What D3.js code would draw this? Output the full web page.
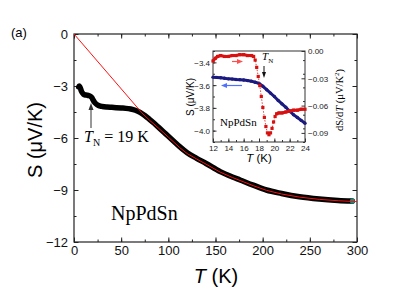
<!DOCTYPE html>
<meta charset="utf-8">
<script src="https://d3js.org/d3.v7.min.js"></script>
<style>
  body { margin: 0; background: #fff; }
  svg { display: block; }
  .sans { font-family: "Liberation Sans", Arial, sans-serif; }
  .serif { font-family: "Liberation Serif", "Times New Roman", serif; }
</style>
<div id="my_dataviz"></div>
<script>

// main panel: thermopower S(T)
var mainT = [5, 5.5, 6, 7, 8, 10, 12, 14, 16, 18, 19, 20, 21, 22, 24, 26, 28, 30, 35, 40, 45, 50, 55, 60, 65, 70, 75, 80, 85, 90, 95, 100, 106, 112, 120, 130, 140, 155, 168, 176, 190, 204, 220, 239, 260, 280, 295];
var mainS = [-3.05, -3.0, -3.04, -3.16, -3.32, -3.47, -3.52, -3.53, -3.56, -3.62, -3.68, -3.78, -3.88, -3.96, -4.06, -4.12, -4.16, -4.18, -4.21, -4.23, -4.25, -4.27, -4.29, -4.33, -4.4, -4.52, -4.7, -4.92, -5.15, -5.4, -5.65, -5.9, -6.2, -6.5, -6.85, -7.17, -7.47, -7.94, -8.25, -8.42, -8.72, -9.0, -9.2, -9.39, -9.52, -9.6, -9.64];

// red fit line
var fitT = [0, 72, 80, 90, 100, 112, 120, 130, 140, 155, 168, 176, 190, 204, 220, 239, 260, 280, 300];
var fitS = [0, -4.55, -4.97, -5.45, -5.95, -6.55, -6.9, -7.21, -7.51, -7.97, -8.28, -8.45, -8.75, -9.02, -9.23, -9.41, -9.54, -9.62, -9.67];

var xTicks = [0, 50, 100, 150, 200, 250, 300];
var yTicks = [0, -3, -6, -9, -12];

// inset: S (left axis) and dS/dT (right axis) near T_N
var insT = [12, 12.5, 13, 13.5, 14, 14.5, 15, 15.5, 16, 16.5, 17, 17.5, 18, 18.5, 19, 19.5, 20, 20.5, 21, 21.5, 22, 22.5, 23, 23.5, 24];
var insS = [-3.53, -3.532, -3.535, -3.54, -3.545, -3.547, -3.55, -3.552, -3.555, -3.56, -3.565, -3.575, -3.585, -3.61, -3.64, -3.67, -3.7, -3.735, -3.765, -3.795, -3.83, -3.86, -3.885, -3.91, -3.935];

var dT = [12, 12.3, 12.6, 13, 13.5, 14, 14.5, 15, 15.5, 16, 16.5, 17, 17.3, 17.5, 17.7, 17.9, 18.1, 18.3, 18.5, 18.7, 18.9, 19.1, 19.3, 19.5, 19.7, 19.9, 20.1, 20.3, 20.6, 21, 21.5, 22, 22.5, 23, 23.5, 24];
var dS = [-0.011, -0.008, -0.006, -0.005, -0.006, -0.006, -0.005, -0.005, -0.004, -0.004, -0.005, -0.005, -0.006, -0.01, -0.018, -0.028, -0.038, -0.05, -0.062, -0.073, -0.083, -0.09, -0.092, -0.09, -0.085, -0.078, -0.072, -0.069, -0.068, -0.068, -0.067, -0.066, -0.065, -0.065, -0.064, -0.064];

var insXTicks = [12, 14, 16, 18, 20, 22, 24];
var insYTicks = [-3.4, -3.6, -3.8, -4.0];
var insY2Ticks = [0, -0.03, -0.06, -0.09];

var W = 415, H = 291;

var svg = d3.select("#my_dataviz")
  .append("svg")
    .attr("width", W)
    .attr("height", H);

// ---- main panel ----
var x = d3.scaleLinear().domain([0, 300]).range([74, 357]);
var y = d3.scaleLinear().domain([-12, 0]).range([242, 34]);

function minor(lo, hi, step) {
  var out = [];
  for (var v = lo; v <= hi + 1e-9; v += step) out.push(+v.toFixed(4));
  return out;
}

// ticks point inward, domain line drawn by the frame rect
function addAxis(axis, tr, size) {
  var g = svg.append("g")
    .attr("transform", tr)
    .call(axis.tickSizeInner(size).tickSizeOuter(0));
  g.select(".domain").remove();
  g.selectAll("line").attr("stroke", "#222");
  return g;
}

addAxis(d3.axisBottom(x).tickValues(minor(0, 300, 25)).tickFormat(""), "translate(0,242)", -2.5);
addAxis(d3.axisTop(x).tickValues(minor(0, 300, 25)).tickFormat(""), "translate(0,34)", -2.5);
addAxis(d3.axisLeft(y).tickValues(minor(-12, 0, 1.5)).tickFormat(""), "translate(74,0)", -2.5);
addAxis(d3.axisRight(y).tickValues(minor(-12, 0, 1.5)).tickFormat(""), "translate(357,0)", -2.5);

var gx = addAxis(d3.axisBottom(x).tickValues(xTicks).tickPadding(4), "translate(0,242)", -4.5);
gx.selectAll("text").attr("class", "sans").style("font-size", "13px").attr("fill", "#111");
var gy = addAxis(d3.axisLeft(y).tickValues(yTicks).tickPadding(6), "translate(74,0)", -4.5);
gy.selectAll("text").attr("class", "sans").style("font-size", "13px").attr("fill", "#111")
  .attr("dy", "0.36em");
addAxis(d3.axisTop(x).tickValues(xTicks).tickFormat(""), "translate(0,34)", -4.5);
addAxis(d3.axisRight(y).tickValues(yTicks).tickFormat(""), "translate(357,0)", -4.5);

svg.append("rect")
  .attr("x", 74).attr("y", 34)
  .attr("width", 357 - 74).attr("height", 242 - 34)
  .attr("fill", "none").attr("stroke", "#222").attr("stroke-width", 1.2);

// data band
var mainPts = mainT.map(function(t, i) { return [t, mainS[i]]; });
var fitPts = fitT.map(function(t, i) { return [t, fitS[i]]; });

var line = d3.line()
  .x(function(d) { return x(d[0]); })
  .y(function(d) { return y(d[1]); })
  .curve(d3.curveMonotoneX);

svg.append("path")
  .datum(mainPts)
  .attr("d", line)
  .attr("fill", "none")
  .attr("stroke", "#000")
  .attr("stroke-width", 5.5)
  .attr("stroke-linecap", "round")
  .attr("stroke-linejoin", "round");

svg.append("circle")
  .attr("cx", x(mainT[mainT.length - 1]))
  .attr("cy", y(mainS[mainS.length - 1]))
  .attr("r", 2.5)
  .attr("fill", "#1a8a7a");

svg.append("path")
  .datum(fitPts)
  .attr("d", d3.line().x(function(d) { return x(d[0]); }).y(function(d) { return y(d[1]); }))
  .attr("fill", "none")
  .attr("stroke", "#ff1010")
  .attr("stroke-width", 1);

// labels
svg.append("text").attr("class", "sans")
  .attr("x", 11).attr("y", 37)
  .style("font-size", "13px").text("(a)");

svg.append("text").attr("class", "sans")
  .attr("transform", "translate(42,140) rotate(-90)")
  .attr("text-anchor", "middle")
  .style("font-size", "20px")
  .text("S (\u03bcV/K)");

var xl = svg.append("text").attr("class", "sans")
  .attr("x", 216).attr("y", 283)
  .attr("text-anchor", "middle")
  .style("font-size", "20px");
xl.append("tspan").style("font-style", "italic").text("T");
xl.append("tspan").text(" (K)");

svg.append("text").attr("class", "serif")
  .attr("x", 111).attr("y", 220)
  .style("font-size", "20px")
  .text("NpPdSn");

var tn = svg.append("text").attr("class", "serif")
  .attr("x", 84).attr("y", 142)
  .style("font-size", "16px");
tn.append("tspan").style("font-style", "italic").text("T");
tn.append("tspan").attr("dy", 4).style("font-size", "10px").text("N");
tn.append("tspan").attr("dy", -4).text(" = 19 K");

svg.append("line")
  .attr("x1", 91).attr("y1", 128).attr("x2", 91).attr("y2", 108)
  .attr("stroke", "#333").attr("stroke-width", 1);
svg.append("path")
  .attr("d", "M91,103 L88.5,110 L93.5,110 Z")
  .attr("fill", "#333");

// ---- inset ----
var ix = d3.scaleLinear().domain([12, 24]).range([213, 305]);
var iy = d3.scaleLinear().domain([-4.1, -3.3]).range([142, 51]);
var iy2 = d3.scaleLinear().domain([-0.1, 0]).range([142, 51]);

svg.append("rect")
  .attr("x", 213).attr("y", 51)
  .attr("width", 305 - 213).attr("height", 142 - 51)
  .attr("fill", "#fff").attr("stroke", "#333").attr("stroke-width", 1);

function insAxis(axis, tr, size) {
  var g = svg.append("g").attr("transform", tr)
    .call(axis.tickSizeInner(size).tickSizeOuter(0).tickPadding(3));
  g.select(".domain").remove();
  g.selectAll("line").attr("stroke", "#333");
  g.selectAll("text").attr("class", "sans").style("font-size", "8px").attr("fill", "#222");
  return g;
}

insAxis(d3.axisBottom(ix).tickValues(minor(12, 24, 1)).tickFormat(""), "translate(0,142)", -2);
insAxis(d3.axisBottom(ix).tickValues(insXTicks).tickFormat(d3.format("d")), "translate(0,142)", -3.5);
insAxis(d3.axisLeft(iy).tickValues(minor(-4.1, -3.3, 0.1)).tickFormat(""), "translate(213,0)", -2);
insAxis(d3.axisLeft(iy).tickValues(insYTicks).tickFormat(d3.format(".1f")), "translate(213,0)", -3.5)
  .selectAll("text").attr("dy", "0.36em");
insAxis(d3.axisRight(iy2).tickValues(minor(-0.1, 0, 0.015)).tickFormat(""), "translate(305,0)", -2);
insAxis(d3.axisRight(iy2).tickValues(insY2Ticks).tickFormat(d3.format(".2f")), "translate(305,0)", -3.5)
  .selectAll("text").attr("dy", "0.36em");

var sPts = insT.map(function(t, i) { return [t, insS[i]]; });
var dPts = dT.map(function(t, i) { return [t, dS[i]]; });

svg.append("path")
  .datum(sPts)
  .attr("d", d3.line().x(function(d) { return ix(d[0]); }).y(function(d) { return iy(d[1]); }))
  .attr("fill", "none").attr("stroke", "#1a1a80").attr("stroke-width", 3);
svg.selectAll(".sdot").data(sPts).enter().append("circle")
  .attr("cx", function(d) { return ix(d[0]); })
  .attr("cy", function(d) { return iy(d[1]); })
  .attr("r", 1.7).attr("fill", "#1a1a80");

var dLine = d3.line().x(function(d) { return ix(d[0]); }).y(function(d) { return iy2(d[1]); });

svg.append("path")
  .datum(dPts)
  .attr("d", dLine)
  .attr("fill", "none").attr("stroke", "#d81010").attr("stroke-width", 0.8)
  .attr("stroke-dasharray", "1.5,1.5");
svg.selectAll(".ddot").data(dPts).enter().append("rect")
  .attr("x", function(d) { return ix(d[0]) - 1.6; })
  .attr("y", function(d) { return iy2(d[1]) - 1.6; })
  .attr("width", 3.2).attr("height", 3.2)
  .attr("fill", "#d81010");
// dense segments of the red trace (outside the transition)
svg.append("path")
  .datum(dPts.filter(function(d) { return d[0] <= 17.3; }))
  .attr("d", dLine)
  .attr("fill", "none").attr("stroke", "#d81010").attr("stroke-width", 3);
svg.append("path")
  .datum(dPts.filter(function(d) { return d[0] >= 20.3; }))
  .attr("d", dLine)
  .attr("fill", "none").attr("stroke", "#d81010").attr("stroke-width", 3);

// inset arrows
svg.append("line").attr("x1", 232).attr("y1", 61.5).attr("x2", 238).attr("y2", 61.5)
  .attr("stroke", "#ff5050").attr("stroke-width", 1.2);
svg.append("path").attr("d", "M243,61.5 L237,59 L237,64 Z").attr("fill", "#ff5050");
svg.append("line").attr("x1", 242).attr("y1", 85.5).attr("x2", 226).attr("y2", 85.5)
  .attr("stroke", "#5070ff").attr("stroke-width", 1.2);
svg.append("path").attr("d", "M221,85.5 L227,83 L227,88 Z").attr("fill", "#5070ff");
svg.append("line").attr("x1", 264).attr("y1", 66).attr("x2", 264).attr("y2", 73)
  .attr("stroke", "#111").attr("stroke-width", 1);
svg.append("path").attr("d", "M264,78 L262,72 L266,72 Z").attr("fill", "#111");

var itn = svg.append("text").attr("class", "serif")
  .attr("x", 262).attr("y", 60).style("font-size", "11px");
itn.append("tspan").style("font-style", "italic").text("T");
itn.append("tspan").attr("dy", 3).style("font-size", "7px").text("N");

svg.append("text").attr("class", "serif")
  .attr("x", 220).attr("y", 126).style("font-size", "11px").text("NpPdSn");

svg.append("text").attr("class", "sans")
  .attr("transform", "translate(194,97) rotate(-90)")
  .attr("text-anchor", "middle").style("font-size", "10px")
  .text("S (\u03bcV/K)");

var ixl = svg.append("text").attr("class", "sans")
  .attr("x", 259).attr("y", 162).attr("text-anchor", "middle").style("font-size", "11.5px");
ixl.append("tspan").style("font-style", "italic").text("T");
ixl.append("tspan").text(" (K)");

var iyl = svg.append("text").attr("class", "serif")
  .attr("transform", "translate(343,100) rotate(-90)")
  .attr("text-anchor", "middle").style("font-size", "10.5px");
iyl.append("tspan").text("dS/d");
iyl.append("tspan").style("font-style", "italic").text("T");
iyl.append("tspan").text(" (\u03bcV/K");
iyl.append("tspan").attr("dy", -4).style("font-size", "7px").text("2");
iyl.append("tspan").attr("dy", 4).text(")");

</script>
